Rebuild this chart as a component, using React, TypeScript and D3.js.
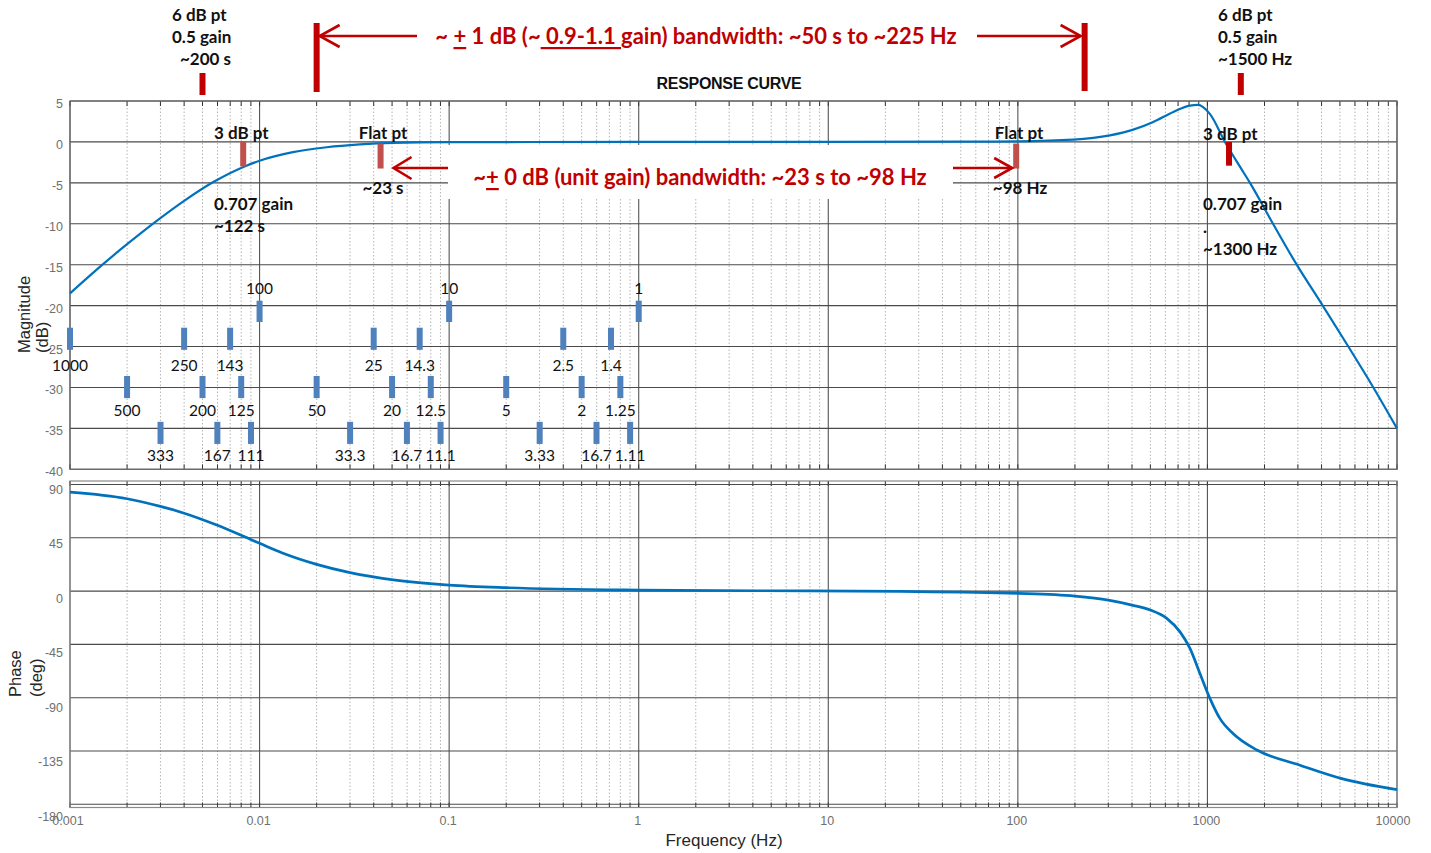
import React from "react";
import * as d3 from "d3";

// Frequency response of the signal chain: magnitude (dB) and phase (deg)
const MAG_FREQ = [
  0.001, 0.0015, 0.002, 0.00281, 0.004, 0.0057, 0.00852, 0.01, 0.015, 0.0226, 0.0338,
  0.0505, 0.1, 1, 10, 50, 100, 196, 306, 406, 518, 661, 809, 889, 1032, 1238, 1473,
  1677, 2218, 2958, 4057, 5536, 7502, 10000,
];
const MAG_DB = [
  -18.5, -14.9, -12.5, -9.8, -7.2, -4.9, -2.9, -2.3, -1.25, -0.65, -0.3,
  -0.11, -0.03, 0, 0, 0.03, 0.07, 0.28, 0.8, 1.5, 2.44, 3.67, 4.44, 4.52, 3.4, 0, -2.9,
  -5, -10, -15, -20, -25, -30, -35,
];

const PHASE_FREQ = [
  0.001, 0.002, 0.003, 0.004, 0.0059, 0.0091, 0.01, 0.0133, 0.02, 0.03, 0.052, 0.1, 0.2,
  1, 4.3, 24, 100, 200, 300, 400, 500, 610, 717, 809, 913, 1032, 1165, 1369, 1836, 3078,
  5114, 10000,
];
const PHASE_DEG = [
  83.6, 78, 71.5, 65.8, 56, 43.2, 40.4, 32, 22.6, 15.6, 9.3, 5.1, 2.9,
  0.85, 0.3, -0.3, -1.9, -4.2, -7.6, -11.8, -16, -23, -34.4, -48.4, -69.6, -90.8, -107.7,
  -120.4, -134.4, -147, -158.3, -167.6,
];

const MAG_TICKS = [5, 0, -5, -10, -15, -20, -25, -30, -35, -40];
const PHASE_TICKS = [90, 45, 0, -45, -90, -135, -180];
const FREQ_TICKS = [0.001, 0.01, 0.1, 1, 10, 100, 1000, 10000];
const FREQ_TICK_LABELS = ["0.001", "0.01", "0.1", "1", "10", "100", "1000", "10000"];

// Period markers (seconds), placed at frequency = 1 / period
const PERIODS_ROW1 = [100, 10, 1];
const LABELS_ROW1 = ["100", "10", "1"];
const PERIODS_ROW2 = [1000, 250, 143, 25, 14.3, 2.5, 1.4];
const LABELS_ROW2 = ["1000", "250", "143", "25", "14.3", "2.5", "1.4"];
const PERIODS_ROW3 = [500, 200, 125, 50, 20, 12.5, 5, 2, 1.25];
const LABELS_ROW3 = ["500", "200", "125", "50", "20", "12.5", "5", "2", "1.25"];
const PERIODS_ROW4 = [333, 167, 111, 33.3, 16.7, 11.1, 3.33, 1.67, 1.11];
const LABELS_ROW4 = ["333", "167", "111", "33.3", "16.7", "11.1", "3.33", "16.7", "1.11"];

// Key points called out on the magnitude curve
const SIX_DB_LOW_PERIOD = 200; // s
const SIX_DB_HIGH_FREQ = 1500; // Hz
const THREE_DB_LOW_PERIOD = 122; // s
const THREE_DB_HIGH_FREQ = 1300; // Hz
const FLAT_LOW_PERIOD = 23; // s
const FLAT_HIGH_FREQ = 98; // Hz
const ONE_DB_LOW_PERIOD = 50; // s
const ONE_DB_HIGH_FREQ = 225; // Hz

const SANS = "'Liberation Sans', Arial, sans-serif";
const NOTE = "Lato, 'Open Sans', sans-serif";
const RED = "#C00000";
const RED_SOFT = "#C0504D";
const BLUE_MARK = "#4F81BD";
const CURVE = "#0072BD";

export default function App() {
  const W = 1431;
  const H = 853;
  const L = 70;
  const R = 1397;
  const magTop = 101;
  const magBot = 469.3;
  const phTop = 481;
  const phBot = 807.5;

  const x = d3.scaleLog().domain([0.001, 10000]).range([L, R]);
  const yMag = d3.scaleLinear().domain([-40, 5]).range([magBot, magTop]);
  const yPh = d3.scaleLinear().domain([-180, 90]).range([804.3, 484.5]);
  const yPhLabel = d3.scaleLinear().domain([-180, 90]).range([816.7, 490]);

  const minorTicks: number[] = [];
  for (let e = -3; e <= 3; e++) {
    for (let m = 2; m <= 9; m++) minorTicks.push(m * Math.pow(10, e));
  }
  const allTicks = [...FREQ_TICKS, ...minorTicks];

  const magLine = d3
    .line<number>()
    .x((_, i) => x(MAG_FREQ[i]))
    .y((d) => yMag(d))
    .curve(d3.curveMonotoneX);
  const phLine = d3
    .line<number>()
    .x((_, i) => x(PHASE_FREQ[i]))
    .y((d) => yPh(d))
    .curve(d3.curveMonotoneX);

  const rows = [
    { periods: PERIODS_ROW1, labels: LABELS_ROW1, top: -19.4, bot: -22.0, label: -17.9 },
    { periods: PERIODS_ROW2, labels: LABELS_ROW2, top: -22.7, bot: -25.4, label: -27.3 },
    { periods: PERIODS_ROW3, labels: LABELS_ROW3, top: -28.6, bot: -31.3, label: -32.8 },
    { periods: PERIODS_ROW4, labels: LABELS_ROW4, top: -34.2, bot: -36.9, label: -38.2 },
  ];

  const panelGrid = (top: number, bot: number, key: string) => (
    <g key={key}>
      {minorTicks.map((f, i) => (
        <line
          key={`m${i}`}
          x1={x(f)}
          x2={x(f)}
          y1={top}
          y2={bot}
          stroke="#b4b4b4"
          strokeWidth={1}
          strokeDasharray="1.5,2"
        />
      ))}
      {FREQ_TICKS.map((f, i) => (
        <line key={`M${i}`} x1={x(f)} x2={x(f)} y1={top} y2={bot} stroke="#555" strokeWidth={1.1} />
      ))}
      {allTicks.map((f, i) => (
        <g key={`t${i}`}>
          <line x1={x(f)} x2={x(f)} y1={top} y2={top + 5} stroke="#333" strokeWidth={1} />
          <line x1={x(f)} x2={x(f)} y1={bot} y2={bot - 5} stroke="#333" strokeWidth={1} />
        </g>
      ))}
    </g>
  );

  const bar = (cx: number, y1: number, y2: number, color: string, w = 6) => (
    <rect x={cx - w / 2} y={Math.min(y1, y2)} width={w} height={Math.abs(y2 - y1)} fill={color} />
  );

  const arrow = (tail: number, tip: number, y: number, color: string, head = 20, half = 11) => {
    const dir = tip > tail ? 1 : -1;
    return (
      <g fill="none" stroke={color} strokeWidth={2.6}>
        <line x1={tail} x2={tip} y1={y} y2={y} />
        <polyline points={`${tip - dir * head},${y - half} ${tip},${y} ${tip - dir * head},${y + half}`} />
      </g>
    );
  };

  const xOneLow = x(1 / ONE_DB_LOW_PERIOD);
  const xOneHigh = x(ONE_DB_HIGH_FREQ);
  const xFlatLow = x(1 / FLAT_LOW_PERIOD);
  const xFlatHigh = x(FLAT_HIGH_FREQ);

  return (
    <svg
      width={W}
      height={H}
      viewBox={`0 0 ${W} ${H}`}
      style={{ position: "absolute", left: 0, top: 0, display: "block", background: "#fff" }}
    >
      <rect x={0} y={0} width={W} height={H} fill="#fff" />

      {/* Magnitude panel */}
      {panelGrid(magTop, magBot, "mag")}
      {MAG_TICKS.map((v) => (
        <g key={`mg${v}`}>
          <line x1={L} x2={R} y1={yMag(v)} y2={yMag(v)} stroke="#4a4a4a" strokeWidth={1.1} />
          <text
            x={63}
            y={yMag(v) + 3}
            textAnchor="end"
            dominantBaseline="central"
            fontFamily={SANS}
            fontSize={12.5}
            fill="#707070"
          >
            {v}
          </text>
        </g>
      ))}
      <rect x={L} y={magTop} width={R - L} height={magBot - magTop} fill="none" stroke="#6b6b6b" strokeWidth={1.2} />

      {/* Phase panel */}
      {panelGrid(phTop, phBot, "ph")}
      {PHASE_TICKS.map((v) => (
        <g key={`pg${v}`}>
          <line x1={L} x2={R} y1={yPh(v)} y2={yPh(v)} stroke="#4a4a4a" strokeWidth={1.1} />
          <text
            x={63}
            y={yPhLabel(v)}
            textAnchor="end"
            dominantBaseline="central"
            fontFamily={SANS}
            fontSize={12.5}
            fill="#707070"
          >
            {v}
          </text>
        </g>
      ))}
      <rect x={L} y={phTop} width={R - L} height={phBot - phTop} fill="none" stroke="#8a8a8a" strokeWidth={1.2} />

      {/* Frequency axis */}
      {FREQ_TICKS.map((f, i) => (
        <text
          key={`fx${i}`}
          x={x(f) - (i === 0 ? 2 : i === FREQ_TICKS.length - 1 ? 4 : 1)}
          y={821}
          textAnchor="middle"
          dominantBaseline="central"
          fontFamily={SANS}
          fontSize={12.5}
          fill="#707070"
        >
          {FREQ_TICK_LABELS[i]}
        </text>
      ))}
      <text x={724} y={840} textAnchor="middle" dominantBaseline="central" fontFamily={SANS} fontSize={17} fill="#262626">
        Frequency  (Hz)
      </text>

      {/* Axis titles */}
      <g fontFamily={SANS} fontSize={16.5} fill="#262626">
        <text transform="translate(30,353) rotate(-90)">Magnitude</text>
        <text transform="translate(48,353) rotate(-90)">(dB)</text>
        <text transform="translate(21,697) rotate(-90)">Phase</text>
        <text transform="translate(42,697) rotate(-90)">(deg)</text>
      </g>

      <text x={729} y={83} textAnchor="middle" dominantBaseline="central" fontFamily={SANS} fontWeight="bold" fontSize={16} fill="#111" letterSpacing={-0.3}>
        RESPONSE CURVE
      </text>

      {/* Curves */}
      <path d={magLine(MAG_DB) || ""} fill="none" stroke={CURVE} strokeWidth={2.2} />
      <path d={phLine(PHASE_DEG) || ""} fill="none" stroke={CURVE} strokeWidth={2.7} />

      {/* Period markers */}
      {rows.map((row, r) =>
        row.periods.map((p, i) => {
          const cx = x(1 / p);
          return (
            <g key={`pm${r}-${i}`}>
              {bar(cx, yMag(row.top), yMag(row.bot), BLUE_MARK, 6)}
              <text
                x={cx}
                y={yMag(row.label)}
                textAnchor="middle"
                dominantBaseline="central"
                fontFamily={NOTE}
                fontSize={15.5}
                fill="#111"
              >
                {row.labels[i]}
              </text>
            </g>
          );
        })
      )}

      {/* ±1 dB bandwidth bracket */}
      {bar(xOneLow, 23, 92, RED, 6)}
      {bar(xOneHigh, 23, 91, RED, 6)}
      {arrow(417, xOneLow + 3, 36, RED)}
      {arrow(977, xOneHigh - 4, 36, RED)}
      <text
        x={696}
        y={35}
        textAnchor="middle"
        dominantBaseline="central"
        fontFamily={NOTE}
        fontWeight="bold"
        fontSize={22}
        fill={RED}
        style={{ whiteSpace: "pre" }}
      >
        {"~ "}
        <tspan style={{ textDecoration: "underline" }}>+</tspan>
        {" 1 dB (~"}
        <tspan style={{ textDecoration: "underline" }}>{" 0.9-1.1 "}</tspan>
        {"gain) bandwidth: ~50 s to ~225 Hz"}
      </text>

      {/* 6 dB points */}
      {bar(x(1 / SIX_DB_LOW_PERIOD), 73, 95, RED, 6)}
      {bar(x(SIX_DB_HIGH_FREQ), 73, 95, RED, 6)}
      <g fontFamily={NOTE} fontWeight="bold" fontSize={17} fill="#111" dominantBaseline="central">
        <text x={172} y={14}>6 dB pt</text>
        <text x={172} y={36}>0.5 gain</text>
        <text x={180} y={58}>~200 s</text>
        <text x={1218} y={14}>6 dB pt</text>
        <text x={1218} y={36}>0.5 gain</text>
        <text x={1218} y={58}>~1500 Hz</text>
      </g>

      {/* ±0 dB bandwidth */}
      <rect x={448} y={145} width={505} height={54} fill="#fff" />
      {bar(x(1 / THREE_DB_LOW_PERIOD), yMag(0), yMag(-3), RED_SOFT, 6)}
      {bar(x(THREE_DB_HIGH_FREQ), yMag(0), yMag(-2.9), RED, 6)}
      {bar(xFlatLow, yMag(-0.2), yMag(-3.25), RED_SOFT, 6)}
      {bar(xFlatHigh, yMag(-0.2), yMag(-3.25), RED_SOFT, 6)}
      {arrow(448, xFlatLow + 13, 168, RED, 18, 11)}
      {arrow(953, xFlatHigh - 4, 168, RED, 18, 10)}
      <text
        x={700}
        y={176}
        textAnchor="middle"
        dominantBaseline="central"
        fontFamily={NOTE}
        fontWeight="bold"
        fontSize={22}
        fill={RED}
        style={{ whiteSpace: "pre" }}
      >
        {"~"}
        <tspan style={{ textDecoration: "underline" }}>+</tspan>
        {" 0 dB (unit gain) bandwidth: ~23 s to ~98 Hz"}
      </text>

      <g fontFamily={NOTE} fontWeight="bold" fontSize={17} fill="#111" dominantBaseline="central">
        <text x={214} y={132}>3 dB pt</text>
        <text x={214} y={203}>0.707 gain</text>
        <text x={214} y={225}>~122 s</text>
        <text x={383} y={132} textAnchor="middle">Flat pt</text>
        <text x={383} y={187} textAnchor="middle">~23 s</text>
        <text x={1019} y={132} textAnchor="middle">Flat pt</text>
        <text x={1020} y={187} textAnchor="middle">~98 Hz</text>
        <text x={1203} y={133}>3 dB pt</text>
        <text x={1203} y={203}>0.707 gain</text>
        <text x={1203} y={226}>.</text>
        <text x={1203} y={248}>~1300 Hz</text>
      </g>
    </svg>
  );
}
